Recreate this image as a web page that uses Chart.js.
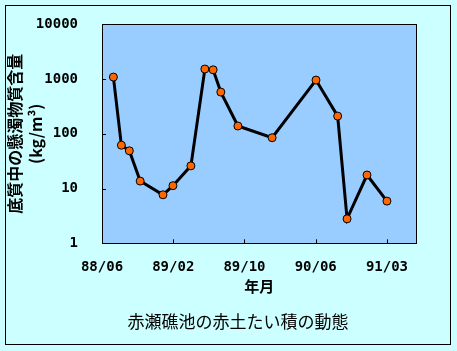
<!DOCTYPE html>
<html>
<head>
<meta charset="utf-8">
<script src="https://cdn.jsdelivr.net/npm/chart.js@4"></script>
<style>
  html, body { margin: 0; padding: 0; background: #fff; }
  #wrap { width: 457px; height: 351px; }
</style>
</head>
<body>
<div id="wrap"><canvas id="chart" width="457" height="351"></canvas></div>
<script>
// Sediment survey: days since the 88/06 axis tick, and suspended load (kg/m3)
const sampleDay = [40, 68, 96, 134, 214, 249, 312, 361, 390, 417, 477, 597, 751, 827, 860, 930, 1000];
const sedimentLoad = [1090, 62, 49, 13.7, 7.7, 11.3, 26, 1530, 1480, 580, 139, 85, 960, 211, 2.8, 17.7, 5.9];

// Axis ticks
const xTickDays = [0, 250, 500, 750, 1000];
const xTickLabels = ["88/06", "89/02", "89/10", "90/06", "91/03"];
const yTickValues = [1, 10, 100, 1000, 10000];

const caption = "赤瀬礁池の赤土たい積の動態";

const digitFont = "'DejaVu Sans Mono', monospace";
const jpFont = "'Noto Sans CJK JP', sans-serif";

// Paints the cyan page, the blue plot area, borders, inward tick marks and the caption
const backdrop = {
  id: "backdrop",
  beforeDraw(chart) {
    const { ctx, width, height, chartArea: a } = chart;
    ctx.save();
    ctx.fillStyle = "#CCFFFF";
    ctx.fillRect(0, 0, width, height);
    ctx.strokeStyle = "#000";
    ctx.lineWidth = 1;
    ctx.strokeRect(5.5, 5.5, 445, 339);
    ctx.fillStyle = "#99CCFF";
    ctx.fillRect(a.left, a.top, a.right - a.left, a.bottom - a.top);
    ctx.restore();
  },
  beforeDatasetsDraw(chart) {
    const { ctx, chartArea: a, scales } = chart;
    ctx.save();
    ctx.strokeStyle = "#000";
    ctx.lineWidth = 1;
    ctx.strokeRect(Math.round(a.left) + 0.5, Math.round(a.top) + 0.5,
      Math.round(a.right - a.left), Math.round(a.bottom - a.top));
    ctx.beginPath();
    scales.x.ticks.forEach((t) => {
      const px = Math.round(scales.x.getPixelForValue(t.value)) + 0.5;
      ctx.moveTo(px, a.bottom);
      ctx.lineTo(px, a.bottom - 4);
    });
    scales.y.ticks.forEach((t) => {
      const py = Math.round(scales.y.getPixelForValue(t.value)) + 0.5;
      ctx.moveTo(a.left, py);
      ctx.lineTo(a.left + 4, py);
    });
    ctx.stroke();
    ctx.restore();
  },
  afterDraw(chart) {
    const { ctx } = chart;
    ctx.save();
    ctx.fillStyle = "#000";
    ctx.font = "17px " + jpFont;
    ctx.textAlign = "center";
    ctx.textBaseline = "middle";
    ctx.fillText(caption, 238, 322);
    ctx.restore();
  }
};

new Chart(document.getElementById("chart"), {
  type: "line",
  data: {
    datasets: [{
      data: sampleDay.map((d, i) => ({ x: d, y: sedimentLoad[i] })),
      borderColor: "#000",
      borderWidth: 3,
      tension: 0,
      pointRadius: 4,
      pointBackgroundColor: "#FF6600",
      pointBorderColor: "#000",
      pointBorderWidth: 1
    }]
  },
  options: {
    responsive: false,
    animation: false,
    layout: { padding: { left: 0, right: 40.7, top: 24.3, bottom: 47.4 } },
    scales: {
      x: {
        type: "linear",
        min: 0,
        max: 1103,
        grid: { display: false },
        border: { display: false },
        afterBuildTicks: (scale) => { scale.ticks = xTickDays.map(v => ({ value: v })); },
        afterFit: (scale) => { scale.height = 60.3; },
        ticks: {
          autoSkip: false,
          maxRotation: 0,
          padding: 8,
          color: "#000",
          font: { family: digitFont, size: 14, weight: "bold" },
          callback: (v, i) => xTickLabels[i]
        },
        title: {
          display: true,
          text: "年月",
          color: "#000",
          font: { family: jpFont, size: 15, weight: "bold", lineHeight: 1.2 },
          padding: { top: 0, bottom: 8.6 }
        }
      },
      y: {
        type: "logarithmic",
        min: 1,
        max: 10000,
        grid: { display: false },
        border: { display: false },
        afterBuildTicks: (scale) => { scale.ticks = yTickValues.map(v => ({ value: v })); },
        afterFit: (scale) => { scale.width = 102; },
        ticks: {
          padding: 16,
          color: "#000",
          font: { family: digitFont, size: 14, weight: "bold" },
          callback: (v) => String(v)
        },
        title: {
          display: true,
          text: ["底質中の懸濁物質含量", "(kg/m³)"],
          color: "#000",
          font: { family: jpFont, size: 16, weight: "bold", lineHeight: 1.3125 },
          padding: { top: 4.5, bottom: 0 }
        }
      }
    },
    plugins: {
      legend: { display: false },
      tooltip: { enabled: false },
      title: { display: false }
    }
  },
  plugins: [backdrop]
});
</script>
</body>
</html>
